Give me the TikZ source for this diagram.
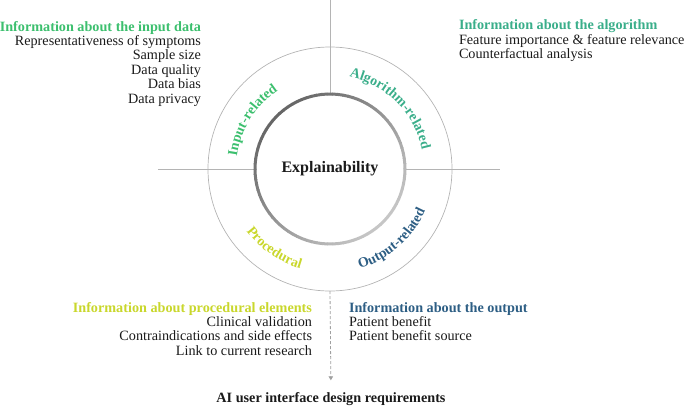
\documentclass[tikz,border=0pt]{standalone}
\usepackage{fontspec}
\setmainfont{Liberation Serif}
\usetikzlibrary{decorations.text,arrows.meta}
\definecolor{inputc}{HTML}{3CBF6E}
\definecolor{algoc}{HTML}{3AAE8A}
\definecolor{procc}{HTML}{C9D72C}
\definecolor{outc}{HTML}{2D5E84}
\definecolor{linec}{HTML}{B4B4B4}
\definecolor{dashc}{HTML}{A0A0A0}
\definecolor{ringdark}{HTML}{666666}
\definecolor{ringlight}{HTML}{C6C6C6}
\definecolor{txt}{HTML}{1A1A1A}
\tikzset{
  body/.style={font=\fontsize{14.2}{14.4}\selectfont, text=txt, inner sep=0pt, outer sep=0pt},
  rule/.style={draw=linec, line width=0.8pt},
  ringtext/.style={decorate, decoration={text along path, text align=center, text={#1}}},
  flowarrow/.style={draw=dashc, line width=0.8pt, dash pattern=on 3pt off 2pt, -{Triangle[length=4pt,width=4.5pt]}},
}
\begin{document}
\begin{tikzpicture}[x=1pt,y=1pt]
\useasboundingbox (-330,-239) rectangle (355,169);
% central nodes
\node[circle, draw=linec, line width=0.7pt, minimum size=244pt, inner sep=0pt, outer sep=0pt] (outer) at (0,0) {};
\node[circle, minimum size=150pt, inner sep=0pt, outer sep=0pt, text=txt, font=\fontsize{16}{16}\selectfont\bfseries] (expl) at (0,0) {Explainability};
% cross lines
\coordinate (topend) at (0,169);
\coordinate (lend) at (-172,0);
\coordinate (rend) at (170,0);
\draw[rule] (topend) -- (expl.north);
\draw[rule] (lend) -- (expl.west);
\draw[rule] (expl.east) -- (rend);
% gradient ring
\foreach \a in {0,4,...,356}{
  \pgfmathsetmacro\p{50+50*cos(\a+2-135)}
  \draw[line width=3pt, draw=ringdark!\p!ringlight] (\a:75) arc[start angle=\a, end angle=\a+4.4, radius=75];
}
% ring labels
\path[ringtext={|\fontsize{14}{14}\selectfont\bfseries\color{inputc}|Input-related}]
  (183:94) arc[start angle=183, end angle=113, radius=94];
\path[ringtext={|\fontsize{14}{14}\selectfont\bfseries\color{algoc}|Algorithm-related}]
  (95:94) arc[start angle=95, end angle=-5, radius=94];
\path[ringtext={|\fontsize{14}{14}\selectfont\bfseries\color{procc}|Procedural}]
  (200:104) arc[start angle=200, end angle=270, radius=104];
\path[ringtext={|\fontsize{14}{14}\selectfont\bfseries\color{outc}|Output-related}]
  (272:104) arc[start angle=272, end angle=351, radius=104];
% information blocks
\node[body, align=right, anchor=north east] (inputinfo) at (-129,148)
  {{\bfseries\color{inputc}Information about the input data}\\
   Representativeness of symptoms\\ Sample size\\ Data quality\\ Data bias\\ Data privacy};
\node[body, align=left, anchor=north west] (algoinfo) at (129,149.4)
  {{\bfseries\color{algoc}Information about the algorithm}\\
   Feature importance \& feature relevance\\ Counterfactual analysis};
\node[body, align=right, anchor=north east] (procinfo) at (-18,-133)
  {{\bfseries\color{procc}Information about procedural elements}\\
   Clinical validation\\ Contraindications and side effects\\ Link to current research};
\node[body, align=left, anchor=north west] (outinfo) at (19,-133)
  {{\bfseries\color{outc}Information about the output}\\
   Patient benefit\\ Patient benefit source};
% result
\node[body, font=\fontsize{14.2}{14.4}\selectfont\bfseries, anchor=base] (ai) at (1,-233.3)
  {AI user interface design requirements};
\draw[flowarrow, shorten >=12pt] (outer.south) -- (ai.north);
\end{tikzpicture}
\end{document}
